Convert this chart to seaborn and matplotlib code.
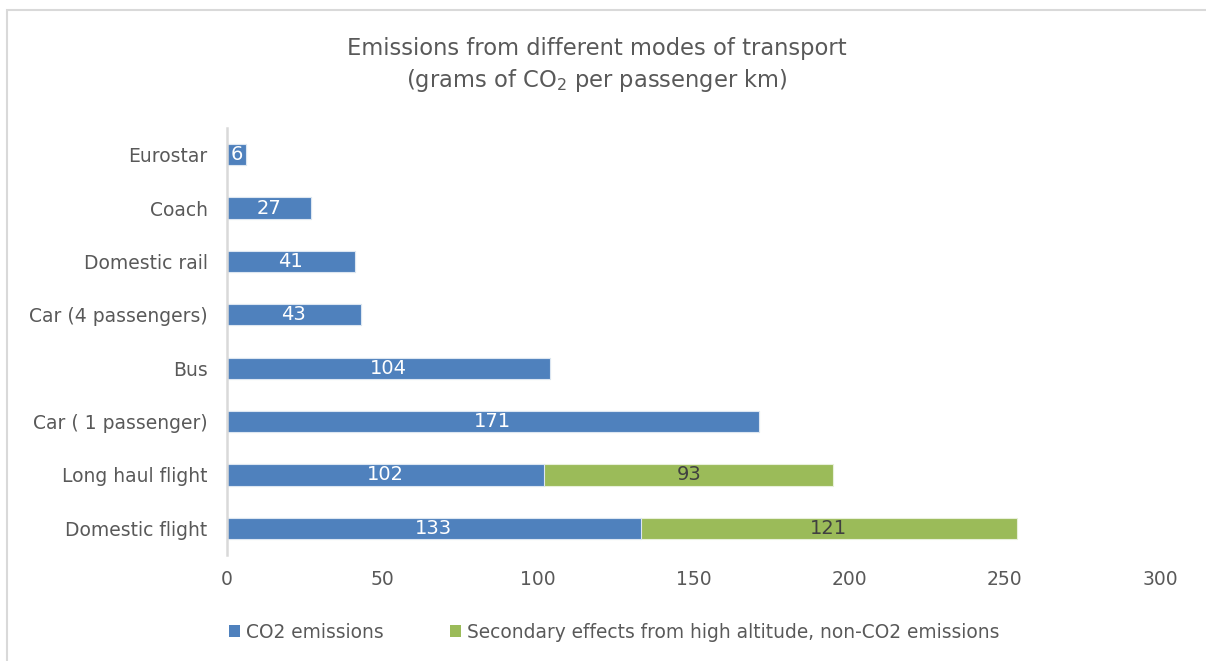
import matplotlib
matplotlib.use("Agg")
import matplotlib.pyplot as plt
from matplotlib.patches import Patch, Rectangle
import pandas as pd
import seaborn as sns

modes = ["Eurostar", "Coach", "Domestic rail", "Car (4 passengers)", "Bus",
         "Car ( 1 passenger)", "Long haul flight", "Domestic flight"]
co2 = [6, 27, 41, 43, 104, 171, 102, 133]
secondary = [0, 0, 0, 0, 0, 0, 93, 121]
x_ticks = [0, 50, 100, 150, 200, 250, 300]

BLUE = "#4F81BD"
GREEN = "#9BBB59"
GREY_TEXT = "#595959"

sns.set_theme(style="white")
plt.rcParams["font.family"] = ["DejaVu Sans"]
plt.rcParams["mathtext.fontset"] = "dejavusans"

df = pd.DataFrame({"mode": modes, "co2": co2, "secondary": secondary})
df["total"] = df["co2"] + df["secondary"]

fig = plt.figure(figsize=(12.06, 6.61), dpi=100)
ax = fig.add_axes([227 / 1206, 1 - 555 / 661, (1160 - 227) / 1206, (555 - 128) / 661])

# chart frame
fig.patches.append(Rectangle((7 / 1206, -0.1), 1.2, 1.1 - 10 / 661, transform=fig.transFigure,
                             fill=False, edgecolor="#D9D9D9", linewidth=1.5, zorder=0))

# totals in green underneath, CO2 share in blue on top
sns.barplot(data=df, y="mode", x="total", orient="h", color=GREEN, width=0.4,
            edgecolor="#E8F0DA", linewidth=0.8, saturation=1, ax=ax)
sns.barplot(data=df, y="mode", x="co2", orient="h", color=BLUE, width=0.4,
            edgecolor="#DCE6F2", linewidth=0.8, saturation=1, ax=ax)

blue_bars = ax.containers[1]
ax.bar_label(blue_bars, labels=[str(v) for v in co2], label_type="center",
             color="white", fontsize=14)
for i, (c, s) in enumerate(zip(co2, secondary)):
    if s > 0:
        ax.text(c + s / 2, i, str(s), ha="center", va="center",
                color="#404040", fontsize=14)

ax.set_xlim(0, 300)
ax.set_ylim(7.5, -0.5)
ax.set_xticks(x_ticks)
ax.set_xlabel("")
ax.set_ylabel("")
ax.tick_params(axis="y", length=0, pad=14, labelsize=13.5, labelcolor=GREY_TEXT)
ax.tick_params(axis="x", length=0, pad=11, labelsize=13.5, labelcolor=GREY_TEXT)
for side in ["top", "right", "bottom"]:
    ax.spines[side].set_visible(False)
ax.spines["left"].set_color("#D9D9D9")
ax.spines["left"].set_linewidth(1.8)
ax.grid(False)

fig.text(597 / 1206, 1 - 48 / 661, "Emissions from different modes of transport",
         ha="center", va="center", fontsize=16.3, color=GREY_TEXT)
fig.text(597 / 1206, 1 - 80 / 661, "(grams of CO$_2$ per passenger km)",
         ha="center", va="center", fontsize=16.3, color=GREY_TEXT)

handles = [Patch(facecolor=BLUE, edgecolor="none", label="CO2 emissions"),
           Patch(facecolor=GREEN, edgecolor="none",
                 label="Secondary effects from high altitude, non-CO2 emissions")]
fig.legend(handles=handles, loc="center", bbox_to_anchor=(614 / 1206, 1 - 632 / 661),
           ncol=2, frameon=False, fontsize=13.4, handlelength=0.6, handleheight=0.6,
           handletextpad=0.3, columnspacing=3.6, labelcolor=GREY_TEXT)

fig.savefig("out.png", dpi=100, facecolor="white")
